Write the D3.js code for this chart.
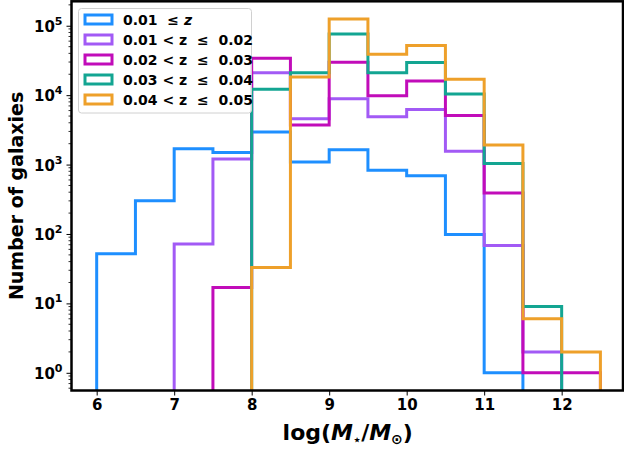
<!DOCTYPE html>
<html><head><meta charset="utf-8">
<script src="https://cdn.jsdelivr.net/npm/d3@7"></script>
<style>body{margin:0;background:#fff}svg{display:block}text{font-family:"DejaVu Sans",sans-serif;font-weight:bold}</style>
</head><body>
<svg id="c" width="624" height="452"></svg>
<script>
const binEdges = [6,6.5,7,7.5,8,8.5,9,9.5,10,10.5,11,11.5,12,12.5];
const seriesNames = ["0.01 ≤ z","0.01 < z ≤ 0.02","0.02 < z ≤ 0.03","0.03 < z ≤ 0.04","0.04 < z ≤ 0.05"];
const seriesColors = ["#1e8fff","#a25af5","#c10cb9","#13a592","#eea02a"];
const blueCounts    = [52,300,1690,1490,2950,1090,1630,826,690,98,1,0,0];
const purpleCounts  = [0,0,72,1200,21000,4570,8900,4900,6200,1550,68,2,0];
const magentaCounts = [0,0,0,17,34000,3730,29800,9800,16000,5100,390,1,1];
const tealCounts    = [0,0,0,0,12200,21000,76000,21000,29500,10400,1040,9,0];
const orangeCounts  = [0,0,0,0,33,18300,125000,39000,52000,17000,1920,6,2];
const allCounts = [blueCounts,purpleCounts,magentaCounts,tealCounts,orangeCounts];
const xTicks = [6,7,8,9,10,11,12];
const yTicks = [1,10,100,1000,10000,100000];

const svg = d3.select("#c");
const L = 71.5, R = 625.6, T = 1.3, B = 390.5;
const x = d3.scaleLinear().domain([5.675,12.825]).range([L,R]);
const y = d3.scaleLog().domain([0.556,2.25e5]).range([B,T]);

svg.append("defs").append("clipPath").attr("id","pc")
  .append("rect").attr("x",L).attr("y",T).attr("width",R-L).attr("height",B-T);

// histograms
const line = d3.line().curve(d3.curveLinear);
allCounts.forEach((counts,si)=>{
  const yv = v => v>0 ? y(v) : B+20;
  const pts = [[x(binEdges[0]), B+20]];
  counts.forEach((v,i)=>{
    pts.push([x(binEdges[i]), yv(v)]);
    pts.push([x(binEdges[i+1]), yv(v)]);
  });
  pts.push([x(binEdges[binEdges.length-1]), B+20]);
  svg.append("path").attr("d",line(pts)).attr("fill","none")
    .attr("stroke",seriesColors[si]).attr("stroke-width",3)
    .attr("stroke-linejoin","miter").attr("clip-path","url(#pc)");
});

// x axis
const xa = svg.append("g").attr("transform",`translate(0,${B})`)
  .call(d3.axisBottom(x).tickValues(xTicks).tickFormat(d3.format("d")).tickSize(5).tickPadding(4));
xa.select(".domain").remove();
xa.selectAll("text").attr("font-size",15).attr("font-family","DejaVu Sans").attr("font-weight","bold").attr("fill","#000");
xa.selectAll("line").attr("stroke-width",1);

// y axis major ticks
const ya = svg.append("g").attr("transform",`translate(${L},0)`)
  .call(d3.axisLeft(y).tickValues(yTicks).tickFormat("").tickSize(5));
ya.select(".domain").remove();
ya.selectAll("line").attr("stroke-width",1);
// minor ticks
const minor = [];
for (let k=-1;k<=5;k++) for (let m=2;m<=9;m++){ const v=m*Math.pow(10,k); if (v>=0.556 && v<=2.25e5) minor.push(v); }
svg.append("g").selectAll("line").data(minor).join("line")
  .attr("x1",L-3).attr("x2",L).attr("y1",d=>y(d)).attr("y2",d=>y(d))
  .attr("stroke","#000").attr("stroke-width",0.8);
// y tick labels with superscripts
yTicks.forEach(v=>{
  const t = svg.append("text").attr("x",L-9).attr("y",y(v)+6).attr("text-anchor","end")
    .attr("font-size",15);
  t.append("tspan").text("10");
  t.append("tspan").attr("dy",-7).attr("font-size",11).text(String(Math.round(Math.log10(v))));
});

// spines
svg.append("rect").attr("x",L).attr("y",T).attr("width",623-L).attr("height",B-T)
  .attr("fill","none").attr("stroke","#000").attr("stroke-width",2.5);

// labels
svg.append("text").attr("transform",`translate(23,${(T+B)/2}) rotate(-90)`)
  .attr("text-anchor","middle").attr("font-size",19).text("Number of galaxies");
const xl = svg.append("text").attr("x",(L+624)/2).attr("y",440).attr("text-anchor","middle").attr("font-size",22);
xl.append("tspan").text("log(");
xl.append("tspan").attr("font-style","italic").text("M");
xl.append("tspan").attr("font-size",13).attr("dy",4).text("⋆");
xl.append("tspan").attr("dy",-4).text("/");
xl.append("tspan").attr("font-style","italic").text("M");
xl.append("tspan").attr("font-size",14).attr("dy",4).text("⊙");
xl.append("tspan").attr("dy",-4).text(")");

// legend
const lg = svg.append("g");
lg.append("rect").attr("x",78.5).attr("y",8.5).attr("width",173).attr("height",104.5).attr("rx",3)
  .attr("fill","#fff").attr("fill-opacity",0.85).attr("stroke","#d0d0d0").attr("stroke-width",1);
seriesNames.forEach((name,i)=>{
  const cy = 19.5 + i*20;
  lg.append("rect").attr("x",85).attr("y",cy-4.5).attr("width",27).attr("height",9)
    .attr("fill","none").attr("stroke",seriesColors[i]).attr("stroke-width",3);
  const t = lg.append("text").attr("x",123).attr("y",cy+5).attr("font-size",14).attr("xml:space","preserve");
  if (i===0){
    t.append("tspan").text("0.01  ≤ ");
    t.append("tspan").attr("font-style","italic").text("z");
  } else {
    const parts = name.split(" ≤ ");
    t.text(parts[0] + "  ≤  " + parts[1]);
  }
});
</script>
</body></html>
